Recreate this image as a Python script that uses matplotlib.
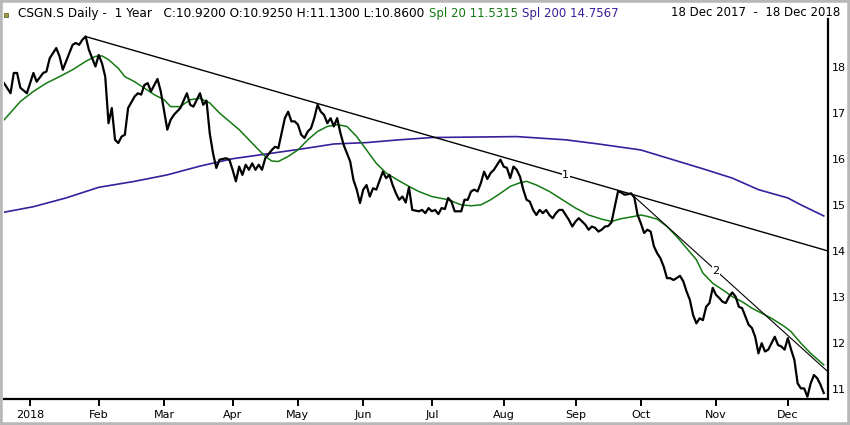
import matplotlib
matplotlib.use('Agg')
import matplotlib.pyplot as plt
from matplotlib.patches import Rectangle
import numpy as np
import pandas as pd

# SIX exchange holidays inside the window
holidays = ["2017-12-25", "2017-12-26", "2018-01-01", "2018-01-02", "2018-03-30",
            "2018-04-02", "2018-05-01", "2018-05-10", "2018-05-21", "2018-08-01",
            "2018-12-24", "2018-12-25"]

# daily closes, x = session number since 18 Dec 2017
price_idx = [0, 2, 3, 4, 5, 7, 9, 10, 12, 13, 14, 16, 17, 18, 19, 21, 22, 23, 24, 25,
             26, 28, 29, 30, 31, 32, 33, 34, 35, 36, 37, 38, 40, 41, 42, 43, 44, 45, 47, 48,
             50, 51, 52, 54, 56, 57, 58, 60, 61, 62, 63, 64, 65, 66, 68, 69, 70, 71, 72, 73,
             74, 75, 76, 77, 78, 79, 80, 82, 83, 84, 85, 86, 87, 88, 89, 90, 91, 92, 93, 94,
             95, 96, 97, 98, 99, 100, 101, 102, 103, 104, 105, 106, 107, 108, 109, 110, 111, 112, 113, 114,
             116, 117, 118, 119, 120, 121, 122, 123, 124, 125, 127, 128, 129, 130, 131, 132, 133, 134, 135, 136,
             137, 138, 140, 141, 142, 143, 144, 145, 146, 147, 148, 149, 150, 151, 152, 153, 154, 155, 156, 157,
             158, 159, 160, 161, 162, 163, 164, 165, 166, 167, 168, 169, 170, 171, 172, 173, 174, 175, 176, 177,
             178, 179, 180, 181, 182, 183, 184, 185, 186, 187, 188, 189, 190, 191, 192, 193, 194, 195, 196, 197,
             198, 199, 200, 201, 202, 203, 204, 205, 207, 208, 209, 210, 211, 212, 213, 214, 215, 216, 217, 218,
             219, 220, 221, 222, 223, 224, 225, 226, 227, 228, 229, 230, 231, 232, 233, 234, 235, 236, 237, 238,
             239, 240, 241, 242, 243, 244, 245, 246, 247, 248, 249, 250, 251]
price_close = [17.64, 17.42, 17.86, 17.86, 17.54, 17.42, 17.86, 17.67, 17.86, 17.89, 18.18, 18.40, 18.22, 17.93, 18.11, 18.47, 18.51, 18.47, 18.58, 18.65,
               18.36, 18.00, 18.25, 18.07, 17.78, 16.77, 17.10, 16.41, 16.34, 16.48, 16.52, 17.10, 17.35, 17.42, 17.39, 17.60, 17.64, 17.46, 17.73, 17.46,
               16.63, 16.84, 16.95, 17.10, 17.42, 17.17, 17.13, 17.42, 17.17, 17.26, 16.55, 16.12, 15.80, 15.98, 16.01, 15.98, 15.76, 15.51, 15.83, 15.65,
               15.87, 15.76, 15.90, 15.76, 15.87, 15.76, 16.01, 16.19, 16.26, 16.23, 16.56, 16.88, 17.02, 16.81, 16.81, 16.74, 16.52, 16.45, 16.59, 16.66,
               16.88, 17.17, 17.02, 16.95, 16.77, 16.88, 16.70, 16.88, 16.56, 16.30, 16.12, 15.94, 15.54, 15.33, 15.04, 15.33, 15.43, 15.18, 15.36, 15.33,
               15.72, 15.58, 15.65, 15.43, 15.25, 15.11, 15.18, 15.05, 15.38, 14.89, 14.86, 14.89, 14.82, 14.93, 14.86, 14.89, 14.80, 14.93, 14.91, 15.15,
               15.07, 14.86, 14.86, 15.11, 15.11, 15.29, 15.33, 15.29, 15.47, 15.72, 15.56, 15.69, 15.76, 15.87, 15.98, 15.83, 15.80, 15.58, 15.83, 15.76,
               15.61, 15.33, 15.11, 15.07, 14.89, 14.78, 14.89, 14.82, 14.89, 14.78, 14.71, 14.82, 14.89, 14.89, 14.78, 14.67, 14.53, 14.64, 14.71, 14.64,
               14.57, 14.46, 14.53, 14.50, 14.42, 14.46, 14.53, 14.54, 14.62, 14.96, 15.29, 15.27, 15.22, 15.23, 15.25, 15.16, 14.78, 14.60, 14.39, 14.46,
               14.42, 14.10, 13.95, 13.84, 13.66, 13.41, 13.41, 13.37, 13.46, 13.34, 13.12, 12.94, 12.61, 12.43, 12.54, 12.50, 12.79, 12.87, 13.20, 13.05,
               12.98, 12.90, 12.87, 13.01, 13.10, 13.01, 12.79, 12.76, 12.58, 12.40, 12.33, 12.14, 11.78, 12.00, 11.82, 11.86, 12.00, 12.14, 11.96, 11.93,
               11.86, 12.11, 11.86, 11.64, 11.13, 11.02, 11.02, 10.84, 11.13, 11.31, 11.24, 11.10, 10.92]

# Spl 20 curve
spl20_idx = [0, 5, 9, 13, 17, 21, 25, 28, 30, 32, 35, 37, 40, 43, 46, 49, 51, 54, 57, 60,
             63, 66, 69, 72, 75, 78, 80, 82, 84, 87, 90, 93, 96, 99, 102, 105, 108, 111, 114, 117,
             121, 124, 127, 131, 136, 140, 143, 146, 149, 152, 155, 158, 160, 163, 167, 171, 175, 179, 183, 186,
             189, 193, 195, 197, 200, 203, 206, 209, 212, 214, 217, 220, 223, 226, 229, 232, 235, 239, 241, 244,
             247, 251]
spl20_val = [16.84, 17.24, 17.46, 17.64, 17.78, 17.93, 18.11, 18.22, 18.23, 18.15, 17.96, 17.78, 17.67, 17.53, 17.39, 17.28, 17.13, 17.13, 17.28, 17.31,
             17.21, 16.99, 16.81, 16.63, 16.41, 16.19, 16.05, 15.95, 15.94, 16.05, 16.19, 16.41, 16.59, 16.70, 16.74, 16.70, 16.48, 16.19, 15.90, 15.69,
             15.52, 15.40, 15.29, 15.18, 15.11, 15.00, 14.98, 15.00, 15.11, 15.25, 15.40, 15.48, 15.51, 15.43, 15.29, 15.11, 14.93, 14.78, 14.69, 14.64,
             14.70, 14.75, 14.78, 14.75, 14.69, 14.53, 14.31, 14.06, 13.81, 13.52, 13.30, 13.16, 13.01, 12.90, 12.76, 12.65, 12.54, 12.36, 12.25, 12.00,
             11.78, 11.53]

# Spl 200 curve
spl200_idx = [0, 9, 19, 29, 40, 50, 60, 70, 80, 91, 101, 111, 121, 131, 157, 172, 182, 195, 215, 223,
              231, 240, 244, 251]
spl200_val = [14.84, 14.96, 15.15, 15.38, 15.51, 15.65, 15.84, 16.00, 16.10, 16.21, 16.32, 16.35, 16.41, 16.46, 16.48, 16.41, 16.32, 16.19, 15.76, 15.58,
              15.33, 15.15, 15.00, 14.76]

# trend lines (session, price) at both ends
trend1 = [(25, 18.65), (252.3, 14.0)]
trend2 = [(192, 15.24), (252.3, 11.38)]
trend_labels = [("1", 172), ("2", 218)]

month_names = ["2018", "Feb", "Mar", "Apr", "May", "Jun", "Jul", "Aug", "Sep", "Oct", "Nov", "Dec"]
yticks = [11, 12, 13, 14, 15, 16, 17, 18]

header = "CSGN.S Daily -  1 Year   C:10.9200 O:10.9250 H:11.1300 L:10.8600"
spl20_text = "Spl 20 11.5315"
spl200_text = "Spl 200 14.7567"
range_text = "18 Dec 2017  -  18 Dec 2018"

green = "#137a13"
purple = "#3a1e9c"

# session calendar -> first session of each month
days = pd.bdate_range("2017-12-18", "2018-12-18")
days = days[~days.isin(pd.to_datetime(holidays))]
sess = pd.Series(np.arange(len(days)), index=days)
firsts = sess.groupby([days.year, days.month]).min()
month_pos = [firsts[(2018, m)] for m in range(1, 13)]

fig = plt.figure(figsize=(8.5, 4.25), dpi=100)
fig.patch.set_facecolor("white")
fig.patches.append(Rectangle((0, 0), 1, 1, transform=fig.transFigure, fill=False,
                             edgecolor="#b8b8b8", linewidth=4))
ax = fig.add_axes([4 / 850, 1 - 399 / 425, 824 / 850, 380 / 425])
ax.set_xlim(0, 252.3)
ax.set_ylim(10.79, 19.03)

ax.plot(spl200_idx, spl200_val, color=purple, lw=1.2, zorder=2)
ax.plot(spl20_idx, spl20_val, color=green, lw=1.1, zorder=3)
ax.plot(price_idx, price_close, color="black", lw=1.6, zorder=4)
for tr, lw in [(trend1, 1.0), (trend2, 0.8)]:
    ax.plot([tr[0][0], tr[1][0]], [tr[0][1], tr[1][1]], color="black", lw=lw, zorder=5)
for (lab, s), tr in zip(trend_labels, [trend1, trend2]):
    yv = np.interp(s, [tr[0][0], tr[1][0]], [tr[0][1], tr[1][1]])
    ax.text(s, yv, lab, ha="center", va="center", fontsize=8, zorder=6,
            bbox=dict(facecolor="white", edgecolor="none", pad=0.5))

for side in ["top", "left"]:
    ax.spines[side].set_visible(False)
ax.spines["bottom"].set_linewidth(1.6)
ax.spines["right"].set_linewidth(1.6)
ax.yaxis.tick_right()
ax.set_yticks(yticks)
ax.set_yticklabels([str(v) for v in yticks], fontsize=8)
ax.tick_params(axis="y", length=0, pad=3)
ax.set_xticks(month_pos)
ax.set_xticklabels(month_names, fontsize=8)
ax.tick_params(axis="x", direction="out", length=5, width=1.4, pad=3)

fig.patches.append(Rectangle((4 / 850, 1 - 17 / 425), 4 / 850, 4 / 425, transform=fig.transFigure,
                             facecolor="#a0a040", edgecolor="#505020", linewidth=0.5))
fig.text(18 / 850, 1 - 13 / 425, header, fontsize=8.7, va="center", ha="left")
fig.text(429 / 850, 1 - 13 / 425, spl20_text, fontsize=8.5, va="center", ha="left", color=green)
fig.text(522 / 850, 1 - 13 / 425, spl200_text, fontsize=8.5, va="center", ha="left", color=purple)
fig.text(840 / 850, 1 - 13 / 425, range_text, fontsize=8.5, va="center", ha="right")

fig.savefig("out.png", dpi=100)
